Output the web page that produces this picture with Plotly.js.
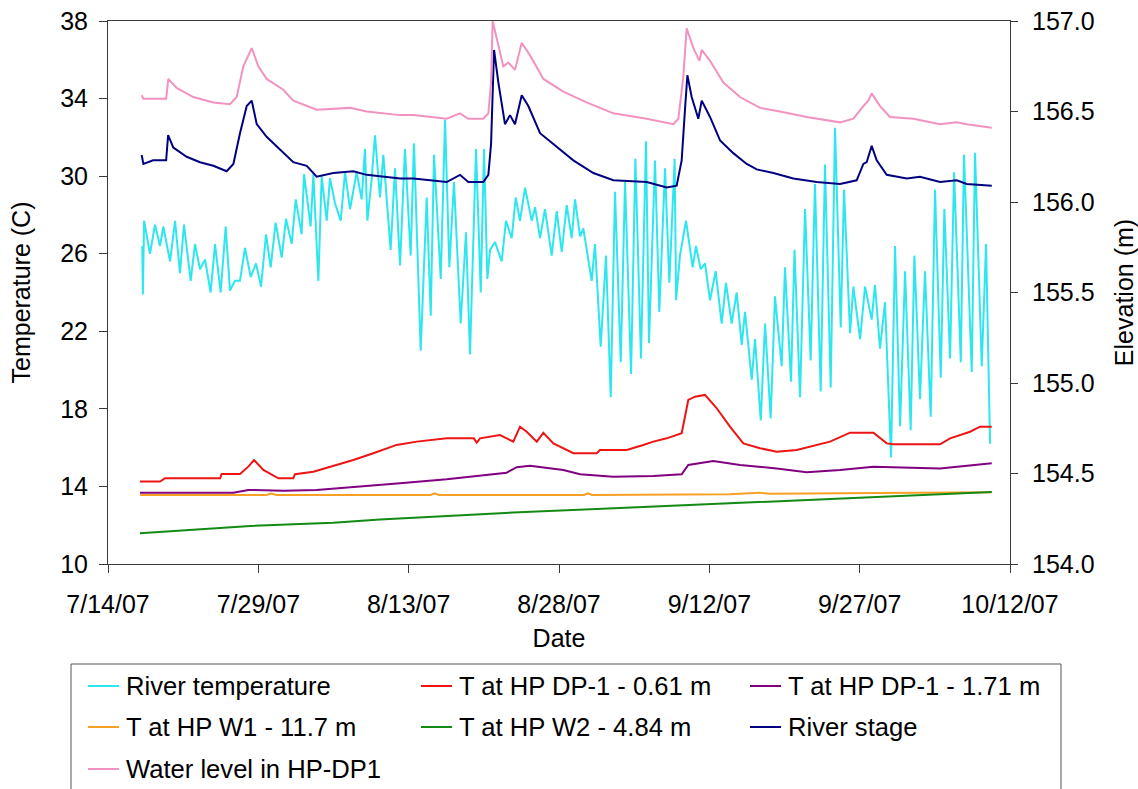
<!DOCTYPE html>
<html>
<head>
<meta charset="utf-8">
<script src="https://cdn.plot.ly/plotly-3.0.1.min.js"></script>
<style>
  html, body { margin: 0; padding: 0; background: #ffffff; }
  #chart { width: 1138px; height: 789px; }
</style>
</head>
<body>
<div id="chart"></div>
<script>
// Time is given as days elapsed since 7/14/07 00:00.
const riverDay = [3.42,3.48,3.6,4.19,4.69,5.19,5.52,6.19,6.69,7.18,
  7.58,8.25,8.68,9.18,9.68,10.24,10.68,11.24,11.74,12.17,
  12.67,13.17,13.67,14.24,14.77,15.27,15.77,16.23,16.73,17.33,
  17.76,18.33,18.73,19.32,19.56,20.22,20.49,20.99,21.32,21.82,
  22.15,22.65,23.22,23.65,24.15,24.81,25.31,25.64,25.88,26.3,
  26.64,27.14,27.47,28.2,28.64,29.14,29.63,30.2,30.53,31.2,
  31.8,32.2,32.53,33.2,33.63,34.06,34.52,35.19,35.72,36.12,
  36.72,37.19,37.52,37.85,38.12,38.62,39.28,39.71,40.28,40.68,
  41.11,41.61,42.28,42.61,43.11,43.6,44.27,44.77,45.27,45.77,
  46.27,46.6,47.1,47.43,48.26,48.59,49.16,49.69,50.16,50.59,
  51.16,51.59,52.19,52.62,53.18,53.68,53.98,54.58,55.01,55.58,
  56.01,56.54,56.68,57.07,57.67,58.34,58.67,59.14,59.57,60.07,
  60.63,61.23,61.66,62.23,62.73,63.23,63.56,64.23,64.56,65.13,
  65.56,66.12,66.55,67.22,67.55,68.15,68.5,69.05,69.55,70.11,
  70.54,71.11,71.54,72.11,72.54,73.11,73.44,74.04,74.37,75.04,
  75.54,76.2,76.53,77.03,77.53,78.13,78.53,79.03,79.53,80.09,
  80.46,81.02,81.52,82.09,82.52,83.09,83.45,84.02,84.42,85.09,
  85.41,86.18,86.51,87.18,87.61,88.01];
const riverTempC = [26.4,23.9,27.7,26.0,27.5,26.4,27.4,25.6,27.7,25.0,
  27.5,24.6,26.5,25.2,25.7,24.0,26.5,24.0,27.4,24.1,
  24.6,24.6,26.3,24.8,25.5,24.3,27.0,25.3,27.6,25.8,
  27.8,26.5,28.8,27.0,30.1,27.4,30.1,24.6,30.0,27.7,
  29.9,28.6,27.7,30.2,28.3,30.2,28.8,31.4,27.7,29.8,
  32.1,28.9,31.1,26.2,30.4,25.4,31.4,25.9,31.7,21.0,
  28.9,22.8,31.1,24.7,32.9,25.3,29.7,22.4,27.1,20.8,
  31.4,24.0,31.4,24.7,26.2,26.6,25.6,27.7,26.8,28.9,
  27.7,29.4,27.7,28.4,26.8,28.3,25.9,28.2,26.1,28.5,
  26.8,28.8,26.9,27.3,24.6,26.5,21.2,25.9,18.6,29.2,
  20.4,29.7,19.8,30.9,20.6,31.8,21.4,30.8,23.0,30.4,
  24.5,30.9,23.6,25.9,27.7,25.3,26.4,25.2,25.5,23.6,
  25.1,22.4,24.5,22.4,24.0,21.3,23.0,19.5,21.6,17.4,
  22.4,17.5,23.8,20.2,25.3,19.4,26.2,18.6,28.3,20.5,
  29.6,18.9,30.6,19.1,32.5,22.2,29.3,21.9,24.3,21.6,
  24.3,22.6,24.4,21.1,23.5,15.5,26.4,17.1,25.1,16.9,
  25.9,18.5,25.1,17.6,29.3,19.6,28.3,20.6,30.2,20.4,
  31.1,19.9,31.2,20.2,26.5,16.2];

const dp061Day = [3.19,5.19,5.69,11.18,11.34,13.17,14.0,14.57,15.5,17.0,
  18.49,18.66,20.49,22.48,24.48,26.47,28.8,30.8,33.8,36.5,
  36.79,37.12,39.11,40.44,41.11,41.78,42.78,43.44,44.44,46.43,
  48.76,49.09,51.75,53.41,54.41,55.75,57.24,57.9,58.57,59.57,
  60.74,62.06,63.39,65.06,66.72,68.72,70.05,72.04,74.04,76.37,
  77.7,78.36,83.02,84.02,86.01,87.01,88.18];
const dp061C = [14.25,14.25,14.42,14.42,14.64,14.64,15.02,15.36,14.85,14.42,
  14.42,14.63,14.76,15.05,15.36,15.71,16.14,16.31,16.48,16.48,
  16.26,16.48,16.65,16.31,17.08,16.82,16.31,16.77,16.22,15.71,
  15.71,15.88,15.88,16.14,16.31,16.48,16.74,18.46,18.63,18.72,
  18.03,17.08,16.22,15.97,15.79,15.88,16.05,16.31,16.77,16.77,
  16.22,16.17,16.17,16.48,16.82,17.08,17.08];

const dp171Day = [3.19,12.51,14.0,17.49,20.82,24.15,29.14,33.8,37.45,39.78,
  40.78,42.11,45.43,47.1,50.42,54.41,57.24,57.9,60.4,63.06,
  66.72,69.72,73.04,76.37,83.02,88.18];
const dp171C = [13.68,13.68,13.82,13.78,13.82,13.95,14.16,14.37,14.59,14.71,
  14.99,15.07,14.85,14.63,14.5,14.54,14.63,15.11,15.31,15.1,
  14.93,14.73,14.85,15.02,14.93,15.19];

const w1Day = [3.19,15.8,16.3,16.8,32.2,32.6,33.0,47.5,47.9,48.3,62.0,65.0,66.0,75.0,82.0,88.18];
const w1C = [13.56,13.56,13.63,13.56,13.56,13.64,13.56,13.56,13.64,13.56,13.6,13.68,13.62,13.64,13.66,13.70];

const w2Day = [3.19,14.2,22.48,27.14,40.4,50.4,60.4,63.06,70.0,76.37,83.02,88.18];
const w2C = [11.58,11.96,12.13,12.30,12.65,12.87,13.09,13.16,13.30,13.47,13.59,13.71];

const stageDay = [3.36,3.53,4.5,5.8,6.0,6.52,7.85,9.18,10.51,11.84,
  12.51,13.17,13.84,14.34,14.84,15.83,17.16,18.49,19.83,20.82,
  22.48,24.48,25.81,29.14,30.47,33.8,35.12,35.95,37.45,37.95,
  38.22,38.38,38.52,38.95,39.61,40.11,40.61,41.28,41.94,43.11,
  44.44,46.43,48.43,50.42,53.75,55.75,56.74,57.24,57.57,57.81,
  58.24,58.9,59.24,60.07,61.07,62.39,63.73,64.73,66.39,68.38,
  70.71,73.04,74.7,75.37,75.7,76.2,76.7,77.7,79.7,81.02,
  83.02,84.69,85.68,88.18];
const stageM = [156.26,156.21,156.23,156.23,156.37,156.30,156.25,156.22,156.20,156.17,
  156.21,156.38,156.53,156.56,156.43,156.36,156.29,156.22,156.20,156.14,
  156.16,156.17,156.15,156.13,156.13,156.11,156.15,156.11,156.11,156.15,
  156.32,156.60,156.84,156.66,156.43,156.48,156.43,156.59,156.53,156.38,
  156.32,156.23,156.16,156.12,156.11,156.08,156.09,156.23,156.51,156.70,
  156.58,156.46,156.56,156.47,156.34,156.27,156.21,156.18,156.16,156.13,
  156.11,156.10,156.12,156.21,156.22,156.31,156.23,156.15,156.13,156.14,
  156.11,156.12,156.10,156.09];

const levelDay = [3.36,3.53,5.8,6.02,6.85,8.51,10.51,12.17,12.84,13.5,
  14.34,15.0,15.83,17.49,18.49,20.82,24.15,25.81,29.14,30.47,
  33.8,35.12,35.95,37.45,37.95,38.22,38.38,38.78,39.44,39.94,
  40.61,41.28,42.11,43.44,45.43,47.76,50.42,53.75,56.41,56.91,
  57.4,57.74,58.41,59.01,59.24,60.07,61.4,63.06,65.06,67.05,
  69.72,73.04,74.37,75.37,75.87,76.2,77.03,78.03,80.36,83.02,
  84.69,85.68,88.18];
const levelM = [156.59,156.57,156.57,156.68,156.63,156.58,156.55,156.54,156.58,156.75,
  156.85,156.75,156.68,156.62,156.56,156.51,156.52,156.50,156.48,156.48,
  156.46,156.49,156.46,156.46,156.49,156.66,157.0,156.91,156.75,156.77,
  156.73,156.88,156.81,156.68,156.61,156.55,156.49,156.46,156.43,156.46,
  156.69,156.96,156.85,156.78,156.84,156.78,156.66,156.58,156.52,156.50,
  156.47,156.44,156.46,156.53,156.56,156.60,156.53,156.47,156.46,156.43,
  156.44,156.43,156.41];

const seriesNames = ['River temperature', 'T at HP DP-1 - 0.61 m', 'T at HP DP-1 - 1.71 m',
  'T at HP W1 - 11.7 m', 'T at HP W2 - 4.84 m', 'River stage', 'Water level in HP-DP1'];
const seriesColors = ['#2EE6EE', '#EE1414', '#800080', '#F7A023', '#138A13', '#000080', '#F292C0'];

const tickDays = [0, 15, 30, 45, 60, 75, 90];
const tickLabels = ['7/14/07', '7/29/07', '8/13/07', '8/28/07', '9/12/07', '9/27/07', '10/12/07'];
const tempTicks = [10, 14, 18, 22, 26, 30, 34, 38];
const elevTicks = [154, 154.5, 155, 155.5, 156, 156.5, 157];
const elevLabels = ['154.0', '154.5', '155.0', '155.5', '156.0', '156.5', '157.0'];

// days since start -> epoch milliseconds on the date axis
const START = Date.UTC(2007, 6, 14);
const toMs = d => START + d * 86400000;

const FONT = 'Arial, "Liberation Sans", sans-serif';
const AXC = '#3a3a3a';

function line(days, vals, i, yaxis) {
  return {
    type: 'scatter', mode: 'lines',
    x: days.map(toMs), y: vals,
    name: seriesNames[i], yaxis: yaxis,
    line: { color: seriesColors[i], width: 2 },
    hoverinfo: 'x+y+name'
  };
}

const data = [
  line(riverDay, riverTempC, 0, 'y'),
  line(dp061Day, dp061C, 1, 'y'),
  line(dp171Day, dp171C, 2, 'y'),
  line(w1Day, w1C, 3, 'y'),
  line(w2Day, w2C, 4, 'y'),
  line(stageDay, stageM, 5, 'y2'),
  line(levelDay, levelM, 6, 'y2')
];

// Boxed legend below the plot: three columns, three rows.
const W = 902, H = 543, L = 108, T = 21;
const px = v => (v - L) / W;
const py = v => (T + H - v) / H;
const colSample = [[88, 119], [421, 452], [750, 781]];
const colText = [124, 457, 786];
const rowY = [686, 727, 769];
const shapes = [{
  type: 'rect', xref: 'paper', yref: 'paper',
  x0: px(71), x1: px(1061), y0: py(800), y1: py(664),
  line: { color: '#555555', width: 1 }, fillcolor: 'rgba(0,0,0,0)'
}];
const annotations = [];
seriesNames.forEach((name, i) => {
  const c = i % 3, r = Math.floor(i / 3);
  shapes.push({
    type: 'line', xref: 'paper', yref: 'paper',
    x0: px(colSample[c][0]), x1: px(colSample[c][1]),
    y0: py(rowY[r]), y1: py(rowY[r]),
    line: { color: seriesColors[i], width: 2 }
  });
  annotations.push({
    xref: 'paper', yref: 'paper', x: px(colText[c]), y: py(rowY[r]),
    xanchor: 'left', yanchor: 'middle', showarrow: false,
    text: name, font: { family: FONT, size: 25.6, color: '#000' }
  });
});

const axisBase = {
  showgrid: false, zeroline: false,
  showline: true, linecolor: AXC, linewidth: 1,
  ticks: 'outside', ticklen: 8, tickwidth: 1, tickcolor: AXC,
  tickfont: { family: FONT, size: 25, color: '#000' }
};

const layout = {
  width: 1138, height: 789,
  margin: { l: 108, r: 128, t: 21, b: 225, pad: 0 },
  paper_bgcolor: '#ffffff', plot_bgcolor: '#ffffff',
  font: { family: FONT, size: 25, color: '#000' },
  showlegend: false,
  xaxis: Object.assign({}, axisBase, {
    type: 'date',
    range: [toMs(0), toMs(90)],
    tickvals: tickDays.map(toMs), ticktext: tickLabels,
    mirror: true, ticklabelstandoff: 10,
    title: { text: 'Date', font: { family: FONT, size: 25 }, standoff: 12 }
  }),
  yaxis: Object.assign({}, axisBase, {
    range: [10, 38], tickvals: tempTicks,
    ticklabelstandoff: 6,
    title: { text: 'Temperature (C)', font: { family: FONT, size: 25 }, standoff: 22 }
  }),
  yaxis2: Object.assign({}, axisBase, {
    overlaying: 'y', side: 'right', anchor: 'x',
    range: [154, 157], tickvals: elevTicks, ticktext: elevLabels,
    ticklen: 7, ticklabelstandoff: 9,
    title: { text: 'Elevation (m)', font: { family: FONT, size: 25 }, standoff: 22 }
  }),
  yaxis3: {
    overlaying: 'y', side: 'right', anchor: 'x',
    range: [154, 157], tickvals: elevTicks,
    showgrid: false, zeroline: false, showline: false,
    ticks: 'inside', ticklen: 7, tickwidth: 1, tickcolor: AXC,
    showticklabels: false
  },
  shapes: shapes,
  annotations: annotations
};

Plotly.newPlot('chart', data, layout, { staticPlot: true, displayModeBar: false });
</script>
</body>
</html>
